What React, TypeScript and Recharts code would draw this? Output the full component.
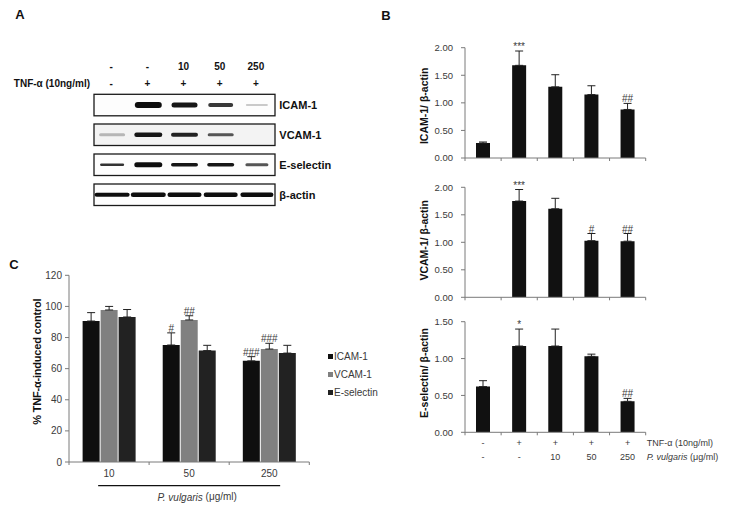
import React from 'react';
import { BarChart, Bar, XAxis, YAxis, ErrorBar, LabelList, Legend } from 'recharts';

const FONT = '"Liberation Sans", Arial, Helvetica, sans-serif';
const AXIS = '#7a7a7a';
const TXT = '#3a3a3a';
const BAR = '#111111';

// ---- panel A (western blot) ----
const doseHeader = ['-', '-', '10', '50', '250'];
const tnfHeader = ['-', '+', '+', '+', '+'];
const blotRows = ['ICAM-1', 'VCAM-1', 'E-selectin', 'β-actin'];
// darkness 0..1 per lane
const bandDark = [
  [0, 1, 0.95, 0.82, 0.22],
  [0.3, 0.95, 0.9, 0.7, 0],
  [0.85, 1, 0.95, 0.95, 0.7],
  [1, 1, 1, 1, 1],
];
const bandThick = [
  [0, 6, 5, 4, 2],
  [3, 4.5, 4, 3, 0],
  [2.5, 5, 3.5, 3.5, 3],
  [4, 4.5, 4.5, 4.5, 4.5],
];
const bandWidth = [
  [0, 27, 26, 25, 22],
  [26, 28, 27, 26, 0],
  [24, 28, 27, 27, 23],
  [35, 35, 34, 34, 33],
];

// ---- panel B ----
const tnfRow = ['-', '+', '+', '+', '+'];
const doseRow = ['-', '-', '10', '50', '250'];
const icamRatio = [0.27, 1.68, 1.29, 1.15, 0.88];
const icamRatioErr = [0.02, 0.26, 0.22, 0.16, 0.11];
const icamRatioSig = ['', '***', '', '', '##'];
const vcamRatio = [0, 1.75, 1.61, 1.03, 1.02];
const vcamRatioErr = [0, 0.21, 0.19, 0.13, 0.14];
const vcamRatioSig = ['', '***', '', '#', '##'];
const eselRatio = [0.62, 1.17, 1.17, 1.03, 0.42];
const eselRatioErr = [0.08, 0.23, 0.23, 0.03, 0.04];
const eselRatioSig = ['', '*', '', '', '##'];

// ---- panel C ----
const doses = ['10', '50', '250'];
const icamPct = [90.6, 75.2, 65.0];
const icamPctErr = [5.4, 7.8, 2.7];
const icamPctSig = ['', '#', '###'];
const vcamPct = [97.7, 91.3, 72.6];
const vcamPctErr = [2.3, 2.7, 3.7];
const vcamPctSig = ['', '##', '###'];
const eselPct = [93.2, 71.6, 70.0];
const eselPctErr = [4.8, 3.4, 5.0];
const eselPctSig = ['', '', ''];

const B_PLOT_W = 180.7;
const C_PLOT_W = 240.3;

// Excel-like x axis: tick marks between categories, labels at the centres
function catTick(
  n: number,
  band: number,
  rows: string[][],
  rowY: number[],
  size: number,
  extra?: (x: number, y: number, i: number) => React.ReactNode,
) {
  return (props: any) => {
    const { x, y, index } = props;
    const i = Number(index);
    return (
      <g>
        <line x1={x - band / 2} x2={x - band / 2} y1={y} y2={y + 3} stroke={AXIS} />
        {i === n - 1 ? <line x1={x + band / 2} x2={x + band / 2} y1={y} y2={y + 3} stroke={AXIS} /> : null}
        {rows.map((r, k) => (
          <text key={k} x={x} y={y + rowY[k]} textAnchor="middle" dominantBaseline="central" fontSize={size} fill={TXT} fontFamily={FONT}>
            {r[i]}
          </text>
        ))}
        {extra ? extra(x, y, i) : null}
      </g>
    );
  };
}

function axisTitle(text: string, cx: number, dy: number, size: number, fallbackY: number, ls = 0) {
  return (props: any) => {
    const vb = props?.viewBox;
    const y = (vb && vb.height ? vb.y + vb.height / 2 : fallbackY) + dy;
    return (
      <text
        x={cx}
        y={y}
        transform={`rotate(-90, ${cx}, ${y})`}
        textAnchor="middle"
        dominantBaseline="central"
        fontSize={size}
        fontWeight="bold"
        letterSpacing={ls}
        fill="#111"
        fontFamily={FONT}
      >
        {text}
      </text>
    );
  };
}

interface RatioProps {
  top: number;
  height: number;
  mTop: number;
  mBottom: number;
  axisH: number;
  values: number[];
  errs: number[];
  sigs: string[];
  yMax: number;
  title: string;
  titleDy: number;
  withLabels?: boolean;
}

function RatioChart({ top, height, mTop, mBottom, axisH, values, errs, sigs, yMax, title, titleDy, withLabels }: RatioProps) {
  const data = values.map((v, i) => ({
    name: `${tnfRow[i]}${doseRow[i]}${i}`,
    value: v,
    err: errs[i],
    errRange: [0, errs[i]],
    sig: sigs[i],
  }));
  const n = values.length;
  const band = B_PLOT_W / n;
  const yTicks = Array.from({ length: Math.round(yMax / 0.5) + 1 }, (_, i) => i * 0.5);
  const rowNames = (x: number, y: number, i: number) =>
    withLabels && i === n - 1 ? (
      <g fontSize={9} fill={TXT} fontFamily={FONT}>
        <text x={x + band / 2 + 1} y={y + 11} dominantBaseline="central">TNF-α (10ng/ml)</text>
        <text x={x + band / 2 + 1} y={y + 24.4} dominantBaseline="central">
          <tspan fontStyle="italic">P. vulgaris</tspan> (μg/ml)
        </text>
      </g>
    ) : null;
  return (
    <div style={{ position: 'absolute', left: 380, top }}>
      <BarChart width={353} height={height} data={data} margin={{ top: mTop, right: 87.3, bottom: mBottom, left: 0 }}>
        <XAxis
          dataKey="name"
          interval={0}
          tickSize={0}
          tickMargin={0}
          tickLine={false}
          axisLine={{ stroke: AXIS }}
          height={axisH}
          tick={catTick(n, band, withLabels ? [tnfRow, doseRow] : [], [11, 24.4], 9, rowNames)}
        />
        <YAxis
          domain={[0, yMax]}
          ticks={yTicks}
          interval={0}
          allowDataOverflow
          width={85}
          tickSize={4}
          tickMargin={8}
          tickFormatter={(v: number) => v.toFixed(2)}
          axisLine={{ stroke: AXIS }}
          tickLine={{ stroke: AXIS }}
          tick={{ fontSize: 9.5, fill: TXT, fontFamily: FONT }}
          label={axisTitle(title, 44, titleDy, 10.5, mTop + 55)}
        />
        <Bar dataKey="value" stackId="s" fill={BAR} barSize={14} isAnimationActive={false}>
          <ErrorBar dataKey="errRange" width={4} stroke="#222" strokeWidth={1} direction="y" />
        </Bar>
        <Bar dataKey="err" stackId="s" fill="transparent" barSize={14} legendType="none" isAnimationActive={false}>
          <LabelList dataKey="sig" position="top" offset={1} style={{ fontSize: 10, fill: TXT, fontFamily: FONT }} />
        </Bar>
      </BarChart>
    </div>
  );
}

function PercentChart() {
  const data = doses.map((d, i) => ({
    dose: d,
    icam: icamPct[i],
    icamErr: icamPctErr[i],
    icamRange: [0, icamPctErr[i]],
    icamSig: icamPctSig[i],
    vcam: vcamPct[i],
    vcamErr: vcamPctErr[i],
    vcamRange: [0, vcamPctErr[i]],
    vcamSig: vcamPctSig[i],
    esel: eselPct[i],
    eselErr: eselPctErr[i],
    eselRange: [0, eselPctErr[i]],
    eselSig: eselPctSig[i],
  }));
  const series = [
    { key: 'icam', name: 'ICAM-1', color: '#0f0f0f' },
    { key: 'vcam', name: 'VCAM-1', color: '#808080' },
    { key: 'esel', name: 'E-selectin', color: '#222222' },
  ];
  const n = doses.length;
  const band = C_PLOT_W / n;
  // underline + caption drawn from the middle category's tick
  const caption = (x: number, y: number, i: number) =>
    i === Math.floor(n / 2) ? (
      <g>
        <line x1={x - 91} x2={x + 91} y1={y + 23.7} y2={y + 23.7} stroke="#111" strokeWidth={1.2} />
        <text x={x + 8} y={y + 34.7} textAnchor="middle" dominantBaseline="central" fontSize={10} fill={TXT} fontFamily={FONT}>
          <tspan fontStyle="italic">P. vulgaris</tspan> (μg/ml)
        </text>
      </g>
    ) : null;
  return (
    <div style={{ position: 'absolute', left: 0, top: 260 }}>
      <BarChart width={390} height={248} data={data} barCategoryGap="17%" barGap={1} margin={{ top: 15.3, right: 80.7, bottom: 30, left: 0 }}>
        <XAxis
          dataKey="dose"
          interval={0}
          tickSize={0}
          tickMargin={0}
          tickLine={false}
          axisLine={{ stroke: AXIS }}
          height={16}
          tick={catTick(n, band, [doses], [11.3], 10, caption)}
        />
        <YAxis
          domain={[0, 120]}
          ticks={[0, 20, 40, 60, 80, 100, 120]}
          interval={0}
          allowDataOverflow
          width={69}
          tickSize={4}
          tickMargin={3}
          axisLine={{ stroke: AXIS }}
          tickLine={{ stroke: AXIS }}
          tick={{ fontSize: 10, fill: TXT, fontFamily: FONT }}
          label={axisTitle('% TNF-α-induced control', 37.5, -7, 11, 108, -0.2)}
        />
        {series.map((s) => [
          <Bar key={s.key} dataKey={s.key} name={s.name} stackId={s.key} fill={s.color} isAnimationActive={false}>
            <ErrorBar dataKey={`${s.key}Range`} width={4} stroke="#222" strokeWidth={1} direction="y" />
          </Bar>,
          <Bar key={`${s.key}-e`} dataKey={`${s.key}Err`} stackId={s.key} fill="transparent" legendType="none" isAnimationActive={false}>
            <LabelList dataKey={`${s.key}Sig`} position="top" offset={1} style={{ fontSize: 10, fill: TXT, fontFamily: FONT }} />
          </Bar>,
        ])}
        <Legend
          layout="vertical"
          align="center"
          verticalAlign="middle"
          wrapperStyle={{ left: 328, top: 88, width: 70 }}
          content={(p: any) => {
            const items = (p.payload || [])
              .filter((e: any) => e.type !== 'none' && series.some((s) => s.name === e.value))
              .sort(
                (a: any, b: any) =>
                  series.findIndex((s) => s.name === a.value) - series.findIndex((s) => s.name === b.value),
              );
            return (
              <div style={{ fontFamily: FONT, fontSize: 10, color: TXT }}>
                {items.map((e: any) => (
                  <div key={e.value} style={{ display: 'flex', alignItems: 'center', height: 17.7, whiteSpace: 'nowrap' }}>
                    <span style={{ display: 'inline-block', width: 5, height: 5, background: e.color, marginRight: 1 }} />
                    {e.value}
                  </div>
                ))}
              </div>
            );
          }}
        />
      </BarChart>
    </div>
  );
}

function Blot() {
  const boxX = 94;
  const boxW = 181;
  const boxH = 21.5;
  const boxTops = [94.3, 124, 154, 184];
  const lane = boxW / doseHeader.length;
  const cx = (i: number) => boxX + lane * (i + 0.5);
  const shade = (d: number) => {
    const c = Math.round(255 - d * 243);
    return `rgb(${c},${c},${c})`;
  };
  return (
    <svg width={380} height={215} style={{ position: 'absolute', left: 0, top: 0 }} fontFamily={FONT}>
      <defs>
        <filter id="soft" x="-20%" y="-100%" width="140%" height="300%">
          <feGaussianBlur stdDeviation="0.7" />
        </filter>
      </defs>
      <text x={20} y={14} textAnchor="middle" dominantBaseline="central" fontSize={13} fontWeight="bold" fill="#111">A</text>
      {doseHeader.map((d, i) => (
        <text key={`d${i}`} x={cx(i) - 1} y={66.7} textAnchor="middle" dominantBaseline="central" fontSize={10} fontWeight="bold" fill="#111">{d}</text>
      ))}
      <text x={90} y={83.3} textAnchor="end" dominantBaseline="central" fontSize={10} fontWeight="bold" fill="#111">TNF-α (10ng/ml)</text>
      {tnfHeader.map((d, i) => (
        <text key={`t${i}`} x={cx(i) - 1} y={83.3} textAnchor="middle" dominantBaseline="central" fontSize={10} fontWeight="bold" fill="#111">{d}</text>
      ))}
      {blotRows.map((r, k) => (
        <g key={r}>
          <rect x={boxX} y={boxTops[k]} width={boxW} height={boxH} fill={k === 1 ? '#f3f3f3' : '#fdfdfd'} stroke="#1a1a1a" strokeWidth={1.3} />
          {bandDark[k].map((d, i) =>
            d > 0 ? (
              <rect
                key={i}
                x={cx(i) - bandWidth[k][i] / 2}
                y={boxTops[k] + boxH / 2 - bandThick[k][i] / 2}
                width={bandWidth[k][i]}
                height={bandThick[k][i]}
                rx={bandThick[k][i] / 2}
                fill={shade(d)}
                filter="url(#soft)"
              />
            ) : null,
          )}
          <text x={279.3} y={boxTops[k] + boxH / 2} dominantBaseline="central" fontSize={11} fontWeight="bold" fill="#111">{r}</text>
        </g>
      ))}
    </svg>
  );
}

export default function App() {
  return (
    <div style={{ position: 'absolute', left: 0, top: 0, width: 733, height: 508, background: '#fff', overflow: 'hidden', fontFamily: FONT }}>
      <Blot />
      <svg width={30} height={30} style={{ position: 'absolute', left: 371, top: 0 }}>
        <text x={15} y={15} textAnchor="middle" dominantBaseline="central" fontSize={13} fontWeight="bold" fill="#111" fontFamily={FONT}>B</text>
      </svg>
      <svg width={30} height={30} style={{ position: 'absolute', left: 0, top: 250 }}>
        <text x={14} y={14} textAnchor="middle" dominantBaseline="central" fontSize={13} fontWeight="bold" fill="#111" fontFamily={FONT}>C</text>
      </svg>
      <RatioChart top={30} height={140} mTop={17.7} mBottom={2} axisH={10} values={icamRatio} errs={icamRatioErr} sigs={icamRatioSig} yMax={2} title="ICAM-1/ β-actin" titleDy={3} />
      <RatioChart top={170} height={140} mTop={17.3} mBottom={2.7} axisH={10} values={vcamRatio} errs={vcamRatioErr} sigs={vcamRatioSig} yMax={2} title="VCAM-1/ β-actin" titleDy={-2} />
      <RatioChart top={305} height={170} mTop={16.7} mBottom={2} axisH={40.7} values={eselRatio} errs={eselRatioErr} sigs={eselRatioSig} yMax={1.5} title="E-selectin/ β-actin" titleDy={-4} withLabels />
      <PercentChart />
    </div>
  );
}
